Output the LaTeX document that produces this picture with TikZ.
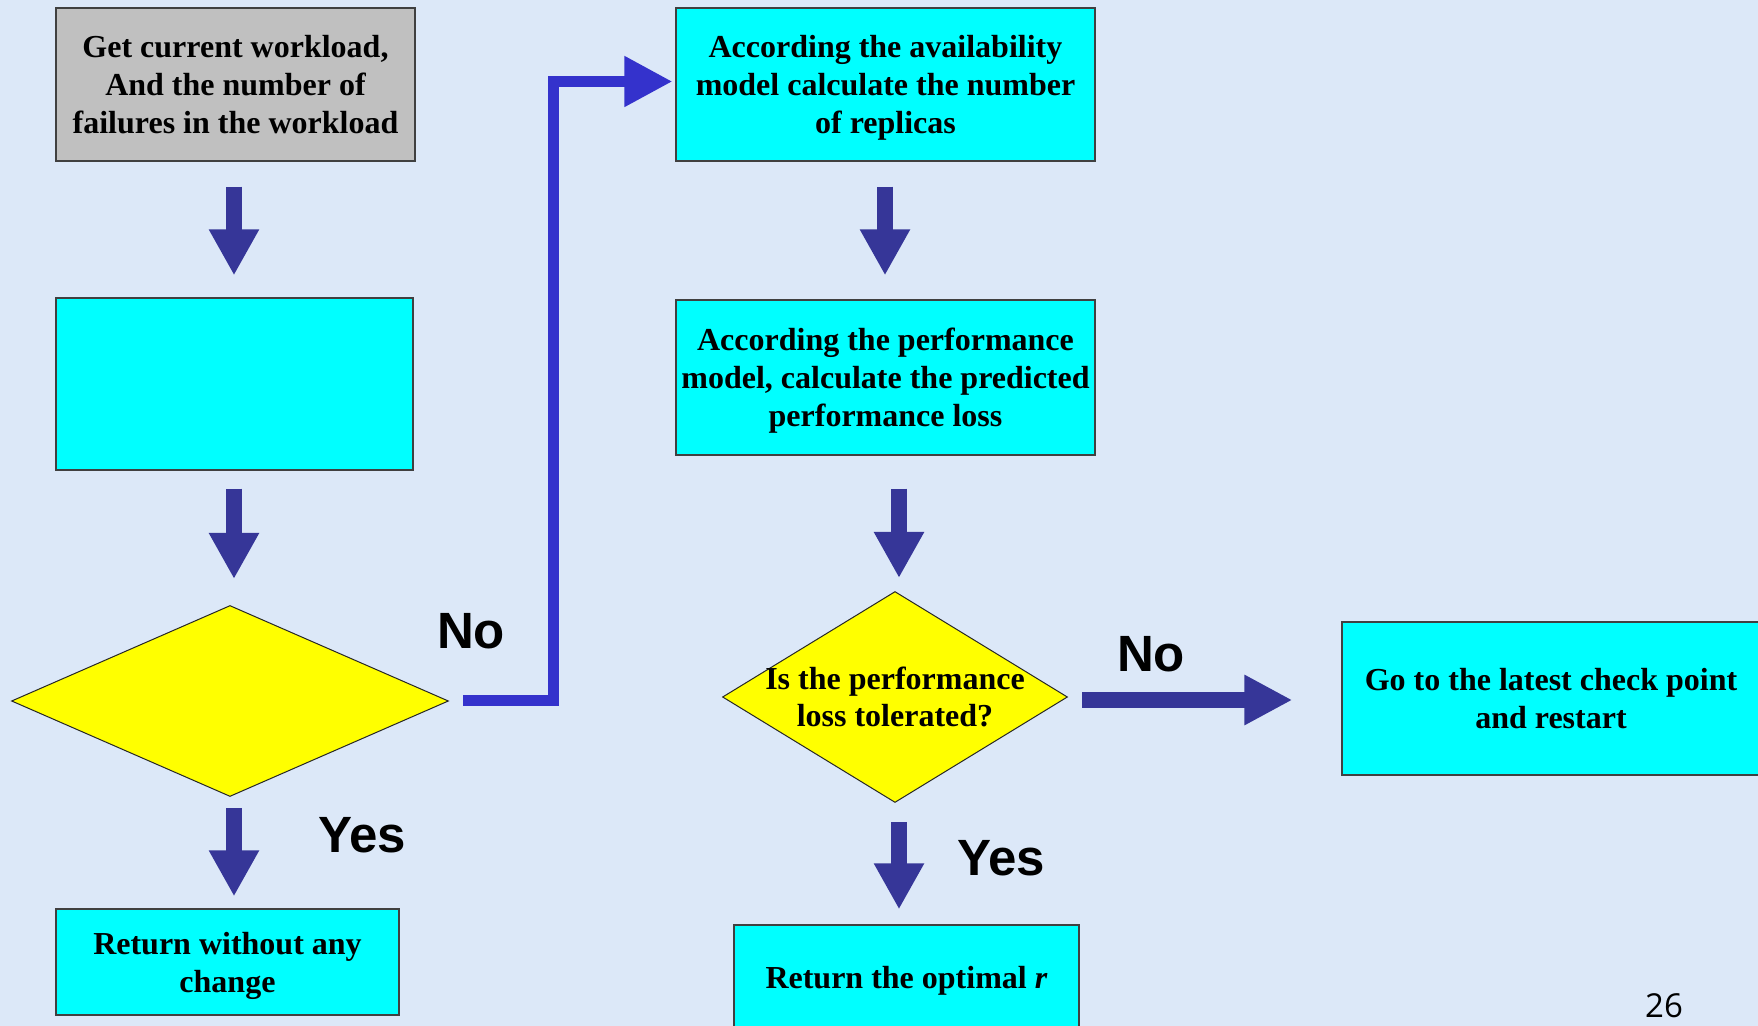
\documentclass[tikz,border=0pt]{standalone}
\usepackage{fontspec}
\setmainfont{Liberation Serif}
\newfontfamily\labelfont{Liberation Sans}
\newfontfamily\pagefont{Open Sans}
\usetikzlibrary{shapes.geometric,arrows.meta,calc}

\definecolor{paper}{RGB}{220,232,248}
\definecolor{boxcyan}{RGB}{0,255,255}
\definecolor{boxgray}{RGB}{192,192,192}
\definecolor{decyellow}{RGB}{255,255,0}
\definecolor{arrowblue}{RGB}{54,54,152}
\definecolor{linkblue}{RGB}{52,50,204}

\begin{document}
\begin{tikzpicture}[x=0.5pt,y=-0.5pt,
  stepbox/.style={draw=black!75, line width=0.6pt, fill=boxcyan, inner sep=0pt,
    align=center, text depth=0pt, font=\fontsize{16}{19}\selectfont\bfseries},
  decision/.style={diamond, draw=black!85, line width=0.5pt, fill=decyellow,
    inner sep=0pt, align=center},
  downarrow/.style={draw=arrowblue, line width=8pt, line cap=butt,
    -{Triangle[width=23.5pt,length=23pt]}},
  sidearrow/.style={draw=arrowblue, line width=8pt, line cap=butt,
    -{Triangle[width=23.5pt,length=24pt]}},
  linkarrow/.style={draw=linkblue, line width=5.5pt, line cap=butt, line join=miter,
    -{Triangle[width=24pt,length=24pt]}},
  answer/.style={font=\labelfont\fontsize{25.5}{30}\selectfont\bfseries}
]
% page background
\fill[paper] (0,0) rectangle (1758,1026);
\useasboundingbox (0,0) rectangle (1758,1026);

% left column
\node[stepbox, fill=boxgray, minimum width=179.5pt, minimum height=76.5pt]
  (g1) at (235.5,84.5) {Get current workload,\\And the number of\\failures in the workload};
\node[stepbox, minimum width=178.5pt, minimum height=86pt] (b2) at (234.5,384) {};
\node[decision, minimum width=218.5pt, minimum height=95.5pt] (d1) at (230,701) {};
\node[stepbox, minimum width=171.5pt, minimum height=53pt]
  (r1) at (227.5,962) {Return without any\\change};

% middle column
\node[stepbox, minimum width=209.5pt, minimum height=76.5pt]
  (b3) at (885.5,84.5) {According the availability\\model calculate the number\\of replicas};
\node[stepbox, minimum width=209.5pt, minimum height=77.5pt]
  (b4) at (885.5,377.5) {According the performance\\model, calculate the predicted\\performance loss};
\node[decision, minimum width=172.5pt, minimum height=105.5pt,
  label={[font=\fontsize{16}{18.5}\selectfont\bfseries, align=center, text depth=0pt]center:Is the performance\\loss tolerated?}]
  (d2) at (895,697) {};
\node[stepbox, minimum width=172.5pt, minimum height=52pt]
  (r2) at (906.5,977) {Return the optimal \textit{r}};

% right column
\node[stepbox, minimum width=209pt, minimum height=76.5pt]
  (b5) at (1551,698.5) {Go to the latest check point\\and restart};

% flow arrows
\draw[downarrow] ($(g1.south)+(-1.5,25)$) -- ($(b2.north)+(-0.5,-22)$);
\draw[downarrow] ($(b2.south)+(-0.5,18)$) -- ($(d1.north)+(4,-26)$);
\draw[downarrow] ($(d1.south)+(4,11)$) -- ($(d1.south |- r1.north)+(4,-12)$);

\draw[downarrow] ($(b3.south)+(-0.5,25)$) -- ($(b4.north)+(-0.5,-24)$);
\draw[downarrow] ($(b4.south)+(13.5,33)$) -- ($(b4.south |- d2.north)+(13.5,-13)$);
\draw[downarrow] ($(d2.south)+(4,19)$) -- ($(d2.south |- r2.north)+(4,-15)$);

\draw[sidearrow] ($(d2.east)+(14,3)$) -- ($(b5.west |- d2.east)+(-49,3)$);

\draw[linkarrow] ($(d1.east)+(14,0)$) -- ++(90,0) |- ($(b3.west)+(-3,-3)$);

% branch labels
\node[answer] (n1) at (471,631) {No};
\node[answer] (y1) at (362,835) {Yes};
\node[answer] (n2) at (1151,654) {No};
\node[answer] (y2) at (1001,858) {Yes};

% slide number
\node[font=\pagefont\fontsize{16.5}{20}\selectfont] (pg) at (1664,1006) {26};
\end{tikzpicture}
\end{document}
